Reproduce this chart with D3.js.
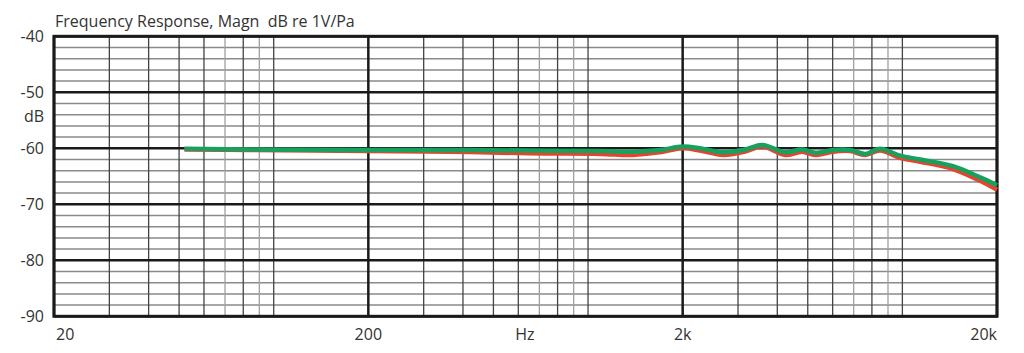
<!DOCTYPE html>
<html lang="en">
<head>
  <meta charset="utf-8">
  <title>Frequency Response</title>
  <script src="https://d3js.org/d3.v7.min.js"></script>
  <style>
  body {
    margin: 0;
    background: white;
    font-family: "Open Sans", "Noto Sans", sans-serif;
  }
  .lbl {
    fill: #333;
    font-size: 16px;
  }
  </style>
</head>
<body>
<script>

// Data
var freqs = [52, 84, 200, 364, 653, 1092, 1390, 1694, 2000, 2270, 2690, 3160, 3580, 4240,
             4800, 5280, 6020, 6820, 7610, 8490, 9840, 11390, 14490, 17670, 20000];
var greenDb = [-60.1, -60.2, -60.3, -60.3, -60.4, -60.5, -60.6, -60.3, -59.7, -60.0, -60.7, -60.2, -59.4, -60.7,
               -60.2, -60.8, -60.3, -60.3, -61.0, -60.1, -61.3, -62.0, -63.2, -65.2, -66.6];
var redDb = [-60.2, -60.3, -60.5, -60.6, -60.9, -61.0, -61.2, -60.7, -60.0, -60.4, -61.2, -60.6, -59.7, -61.2,
             -60.6, -61.2, -60.6, -60.5, -61.2, -60.4, -61.7, -62.4, -63.7, -65.8, -67.4];

var xTicks = [20, 200, 2000, 20000];
var xTickLabels = ["20", "200", "2k", "20k"];
var yTicks = [-40, -50, -60, -70, -80, -90];

// Display constants
var width = 1024;
var height = 353;
var plotLeft = 54, plotRight = 997, plotTop = 36.3, plotBottom = 316.3;

var svg = d3.select("body").append("svg")
  .attr("width", width)
  .attr("height", height);

var x = d3.scaleLog().domain([20, 20000]).range([plotLeft, plotRight]);
var y = d3.scaleLinear().domain([-90, -40]).range([plotBottom, plotTop]);

// minor grid values
var minorX = [];
[20, 200, 2000].forEach(function(d) {
  [1.5, 2, 2.5, 3, 3.5, 4, 4.5, 5].forEach(function(m) { minorX.push(d * m); });
});
var minorY = d3.range(-90, -39, 2).filter(function(v) { return v % 10 != 0; });

var grid = svg.append("g");

grid.selectAll(".hminor")
  .data(minorY)
  .enter().append("line")
  .attr("x1", plotLeft).attr("x2", plotRight)
  .attr("y1", function(d) { return y(d); })
  .attr("y2", function(d) { return y(d); })
  .attr("stroke", "#8a8a8a")
  .attr("stroke-width", 1.5);

grid.selectAll(".vminor")
  .data(minorX)
  .enter().append("line")
  .attr("x1", function(d) { return x(d); })
  .attr("x2", function(d) { return x(d); })
  .attr("y1", plotTop).attr("y2", plotBottom)
  .attr("stroke", function(d) {
    var k = Math.round(d / Math.pow(10, Math.floor(Math.log10(d))));
    return (k == 7 || k == 9) ? "#a0a0a0" : "#444";
  })
  .attr("stroke-width", 1.3);

grid.selectAll(".hmajor")
  .data(yTicks)
  .enter().append("line")
  .attr("x1", plotLeft).attr("x2", plotRight)
  .attr("y1", function(d) { return y(d); })
  .attr("y2", function(d) { return y(d); })
  .attr("stroke", "#1a1a1a")
  .attr("stroke-width", 2.5);

grid.selectAll(".vmajor")
  .data(xTicks)
  .enter().append("line")
  .attr("x1", function(d) { return x(d); })
  .attr("x2", function(d) { return x(d); })
  .attr("y1", plotTop).attr("y2", plotBottom)
  .attr("stroke", "#1a1a1a")
  .attr("stroke-width", 2.5);

grid.append("rect")
  .attr("x", plotLeft).attr("y", plotTop)
  .attr("width", plotRight - plotLeft).attr("height", plotBottom - plotTop)
  .attr("fill", "none")
  .attr("stroke", "#1a1a1a")
  .attr("stroke-width", 3);

// curves
var line = d3.line()
  .x(function(d) { return x(d[0]); })
  .y(function(d) { return y(d[1]); })
  .curve(d3.curveCatmullRom);

svg.append("path")
  .datum(d3.zip(freqs, redDb))
  .attr("d", line)
  .attr("fill", "none")
  .attr("stroke", "#e8432c")
  .attr("stroke-width", 4.5);

svg.append("path")
  .datum(d3.zip(freqs, greenDb))
  .attr("d", line)
  .attr("fill", "none")
  .attr("stroke", "#17a05e")
  .attr("stroke-width", 4.5);

// labels
svg.append("text")
  .attr("class", "lbl")
  .attr("x", 55).attr("y", 27)
  .attr("font-size", "16px")
  .attr("xml:space", "preserve")
  .text("Frequency Response, Magn  dB re 1V/Pa");

svg.selectAll(".ylbl")
  .data(yTicks)
  .enter().append("text")
  .attr("class", "lbl")
  .attr("x", 44)
  .attr("y", function(d) { return y(d) + 6; })
  .attr("text-anchor", "end")
  .attr("font-size", "17px")
  .text(function(d) { return d; });

svg.append("text")
  .attr("class", "lbl")
  .attr("x", 44).attr("y", 122)
  .attr("text-anchor", "end")
  .attr("font-size", "17px")
  .text("dB");

svg.selectAll(".xlbl")
  .data(xTicks)
  .enter().append("text")
  .attr("class", "lbl")
  .attr("x", function(d, i) { return i == 0 ? x(d) + 2 : x(d); })
  .attr("y", 340)
  .attr("text-anchor", function(d, i) {
    if (i == 0) return "start";
    if (i == xTicks.length - 1) return "end";
    return "middle";
  })
  .attr("font-size", "17px")
  .text(function(d, i) { return xTickLabels[i]; });

svg.append("text")
  .attr("class", "lbl")
  .attr("x", x(630)).attr("y", 340)
  .attr("text-anchor", "middle")
  .attr("font-size", "17px")
  .text("Hz");

</script>
</body>
</html>
